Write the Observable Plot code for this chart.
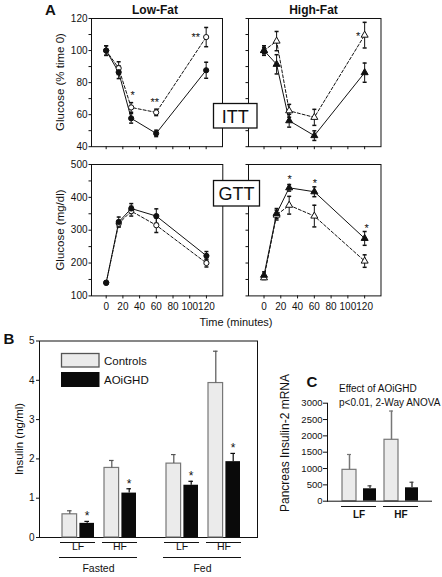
<!DOCTYPE html>
<html><head><meta charset="utf-8">
<script src="https://cdn.jsdelivr.net/npm/d3@7"></script>
<script src="https://cdn.jsdelivr.net/npm/@observablehq/plot@0.6"></script>
<style>
body{margin:0;background:#fff;}
#root{position:relative;width:442px;height:577px;overflow:hidden;background:#fff;font-family:"Liberation Sans",Arial,sans-serif;}
</style></head><body><div id="root"></div>
<script>
// ---------- data ----------
const times = [0, 15, 30, 60, 120];
const xTicks = [0, 20, 40, 60, 80, 100, 120];
const ittTicks = [40, 50, 60, 70, 80, 90, 100, 110, 120];
const ittLabels = [40, 60, 80, 100, 120];
const gttTicks = [100, 150, 200, 250, 300, 350, 400, 450, 500];
const gttLabels = [100, 200, 300, 400, 500];

// ITT Low-Fat (% time 0)
const ittLfCtrl = [100, 89, 64.5, 61.4, 108.4];
const ittLfCtrlSE = [3, 4, 3, 2, 6];
const ittLfAoi = [100, 86.5, 57.7, 48.3, 87.7];
const ittLfAoiSE = [3, 4, 3, 2, 5];
const ittLfCtrlSig = ["", "", "*", "**", "**"];
const ittLfAoiSig = ["", "", "", "", ""];
// ITT High-Fat
const ittHfCtrl = [100, 105.9, 62.4, 58.3, 109.6];
const ittHfCtrlSE = [3, 6, 4, 5, 8];
const ittHfAoi = [100, 91.4, 56.2, 46.9, 86.2];
const ittHfAoiSE = [2, 6, 4, 3, 6];
const ittHfCtrlSig = ["", "", "", "", "*"];
const ittHfAoiSig = ["", "", "", "", ""];
// GTT Low-Fat (mg/dl)
const gttLfCtrl = [140, 320, 358, 315, 200];
const gttLfCtrlSE = [5, 10, 15, 22, 12];
const gttLfAoi = [140, 325, 366, 343, 222];
const gttLfAoiSE = [5, 15, 15, 22, 13];
const gttLfCtrlSig = ["", "", "", "", ""];
const gttLfAoiSig = ["", "", "", "", ""];
// GTT High-Fat
const gttHfCtrl = [155, 346, 376, 343, 206];
const gttHfCtrlSE = [5, 15, 27, 33, 19];
const gttHfAoi = [163, 351, 429, 417, 275];
const gttHfAoiSE = [10, 15, 10, 15, 21];
const gttHfCtrlSig = ["", "", "", "", ""];
const gttHfAoiSig = ["", "", "*", "*", "*"];

// B: insulin (ng/ml)
const bCond = ["Fasted", "Fasted", "Fed", "Fed"];
const bDiet = ["LF", "HF", "LF", "HF"];
const bCtrl = [0.59, 1.77, 1.88, 3.93];
const bCtrlSE = [0.09, 0.19, 0.23, 0.81];
const bAoi = [0.36, 1.13, 1.33, 1.93];
const bAoiSE = [0.05, 0.11, 0.10, 0.21];
const bSig = ["*", "*", "*", "*"];
const bTicks = [0, 1, 2, 3, 4, 5];

// C: pancreas insulin-2 mRNA
const cDiet = ["LF", "HF"];
const cCtrl = [960, 1880];
const cCtrlSE = [470, 880];
const cAoi = [380, 410];
const cAoiSE = [90, 170];
const cTicks = [0, 500, 1000, 1500, 2000, 2500, 3000];

// ---------- helpers ----------
const root = document.getElementById("root");
const FONT = '"Liberation Sans", Arial, Helvetica, sans-serif';
const INK = "#111";
const baseStyle = {fontFamily: FONT, fontSize: "10px", color: INK, background: "transparent", overflow: "visible"};
const plain = d => String(d);
function place(svg, left, top) {
  svg.style.position = "absolute";
  svg.style.left = left + "px";
  svg.style.top = top + "px";
  svg.style.maxWidth = "none";
  root.appendChild(svg);
}
const capSymbol = {draw(ctx) { ctx.moveTo(-2, 0); ctx.lineTo(2, 0); }};

function linePanel(cfg) {
  const mL = 40, mR = 12, mT = 10, mB = 22;
  const W = cfg.x1 - cfg.x0 + mL + mR, H = cfg.y1 - cfg.y0 + mT + mB;
  const mk = (vals, ses, sigs) => times.map((t, i) => ({t, v: vals[i], lo: vals[i] - ses[i], hi: vals[i] + ses[i], sig: sigs[i], i}));
  const ctrl = mk(cfg.ctrl, cfg.ctrlSE, cfg.ctrlSig);
  const aoi = mk(cfg.aoi, cfg.aoiSE, cfg.aoiSig);
  const all = ctrl.concat(aoi);
  const starMarks = [];
  for (const [rows, offs] of [[ctrl, cfg.ctrlStar || []], [aoi, cfg.aoiStar || []]]) {
    rows.forEach(r => {
      if (r.sig) {
        const o = offs[r.i] || [0, -5];
        starMarks.push(Plot.text([r], {x: "t", y: "hi", text: "sig", dx: o[0], dy: o[1], fontSize: 11, fill: INK}));
      }
    });
  }
  const svg = Plot.plot({
    width: W, height: H, marginLeft: mL, marginRight: mR, marginTop: mT, marginBottom: mB,
    style: baseStyle,
    x: {domain: cfg.xDomain},
    y: {domain: cfg.yDomain},
    marks: [
      Plot.frame({stroke: INK}),
      Plot.axisY({ticks: cfg.yTicks, tickSize: 2.5, tickPadding: 1.5, label: null,
        tickFormat: d => (cfg.yLabels && cfg.yLabels.includes(d)) ? String(d) : ""}),
      Plot.axisX({ticks: xTicks, tickSize: 3, tickPadding: 3.5, label: null,
        tickFormat: d => cfg.xLabels ? String(d) : ""}),
      Plot.line(ctrl, {x: "t", y: "v", stroke: INK, strokeWidth: 1, strokeDasharray: "3,2"}),
      Plot.line(aoi, {x: "t", y: "v", stroke: INK, strokeWidth: 1}),
      Plot.ruleX(all, {x: "t", y1: "lo", y2: "hi", stroke: INK, strokeWidth: 1}),
      Plot.dot(all, {x: "t", y: "lo", symbol: capSymbol, stroke: INK, fill: "none"}),
      Plot.dot(all, {x: "t", y: "hi", symbol: capSymbol, stroke: INK, fill: "none"}),
      Plot.dot(ctrl, {x: "t", y: "v", symbol: cfg.symbol, r: 2.6, fill: "white", stroke: INK, strokeWidth: 1}),
      Plot.dot(aoi, {x: "t", y: "v", symbol: cfg.symbol, r: 2.6, fill: INK, stroke: INK, strokeWidth: 1}),
      ...starMarks
    ]
  });
  place(svg, cfg.x0 - mL, cfg.y0 - mT);
}

const lfX = [-17.6, 139.6], hfX = [-18.5, 139.5];
linePanel({x0: 91, x1: 222, y0: 17.8, y1: 146, xDomain: lfX, yDomain: [40, 120], yTicks: ittTicks, yLabels: ittLabels, xLabels: false, symbol: "circle",
  ctrl: ittLfCtrl, ctrlSE: ittLfCtrlSE, aoi: ittLfAoi, aoiSE: ittLfAoiSE, ctrlSig: ittLfCtrlSig, aoiSig: ittLfAoiSig,
  ctrlStar: [null, null, [1.4, -7.1], [-1.5, -6.5], [-10.5, 9.6]]});
linePanel({x0: 248, x1: 380.5, y0: 17.8, y1: 146, xDomain: hfX, yDomain: [40, 120], yTicks: ittTicks, yLabels: null, xLabels: false, symbol: "triangle",
  ctrl: ittHfCtrl, ctrlSE: ittHfCtrlSE, aoi: ittHfAoi, aoiSE: ittHfAoiSE, ctrlSig: ittHfCtrlSig, aoiSig: ittHfAoiSig,
  ctrlStar: [null, null, null, null, [-6.5, 14.4]]});
linePanel({x0: 91, x1: 222.3, y0: 164.3, y1: 295.7, xDomain: lfX, yDomain: [100, 500], yTicks: gttTicks, yLabels: gttLabels, xLabels: true, symbol: "circle",
  ctrl: gttLfCtrl, ctrlSE: gttLfCtrlSE, aoi: gttLfAoi, aoiSE: gttLfAoiSE, ctrlSig: gttLfCtrlSig, aoiSig: gttLfAoiSig});
linePanel({x0: 248, x1: 380.5, y0: 164.3, y1: 295.7, xDomain: hfX, yDomain: [100, 500], yTicks: gttTicks, yLabels: null, xLabels: true, symbol: "triangle",
  ctrl: gttHfCtrl, ctrlSE: gttHfCtrlSE, aoi: gttHfAoi, aoiSE: gttHfAoiSE, ctrlSig: gttHfCtrlSig, aoiSig: gttHfAoiSig,
  aoiStar: [null, null, [0.5, -4.7], [0.5, -3.7], [2, -3.4]]});

// ---------- Panel B ----------
const bData = bCond.map((c, i) => ({cond: c, diet: bDiet[i], ctrl: bCtrl[i], ctrlSE: bCtrlSE[i], aoi: bAoi[i], aoiSE: bAoiSE[i], sig: bSig[i]}));
const condData = Array.from(new Set(bCond)).map(c => ({cond: c}));
const bW = 270, bH = 247, bTop = 330;
place(Plot.plot({
  width: bW, height: bH, marginLeft: 39, marginRight: 13, marginTop: 10.5, marginBottom: 40,
  style: baseStyle,
  y: {domain: [0, 5]},
  marks: [
    Plot.frame({stroke: INK}),
    Plot.axisY({ticks: bTicks, tickSize: 3, tickPadding: 2, label: null, tickFormat: plain})
  ]
}), 0, bTop);
place(Plot.plot({
  width: bW, height: bH, marginLeft: 41, marginRight: 11, marginTop: 10.5, marginBottom: 40,
  style: baseStyle,
  fx: {domain: ["Fasted", "Fed"], paddingInner: 0.25, paddingOuter: 0.173, axis: null},
  x: {domain: ["LF", "HF"], paddingInner: 0.17, paddingOuter: 0, axis: null},
  y: {domain: [0, 5], axis: null},
  marks: [
    Plot.barY(bData, {fx: "cond", x: "diet", y: "ctrl", fill: "#ebebeb", stroke: "#777", strokeWidth: 1.2, insetLeft: 2, insetRight: 18.4}),
    Plot.barY(bData, {fx: "cond", x: "diet", y: "aoi", fill: "#0a0a0a", insetLeft: 19.4, insetRight: 1}),
    Plot.ruleX(bData, {fx: "cond", x: "diet", y1: "ctrl", y2: d => d.ctrl + d.ctrlSE, dx: -8.2, stroke: "#555", strokeWidth: 1.2}),
    Plot.tickY(bData, {fx: "cond", x: "diet", y: d => d.ctrl + d.ctrlSE, insetLeft: 7, insetRight: 23.4, stroke: "#555", strokeWidth: 1.2}),
    Plot.ruleX(bData, {fx: "cond", x: "diet", y1: "aoi", y2: d => d.aoi + d.aoiSE, dx: 9.2, stroke: "#0a0a0a", strokeWidth: 1.2}),
    Plot.tickY(bData, {fx: "cond", x: "diet", y: d => d.aoi + d.aoiSE, insetLeft: 24.4, insetRight: 6, stroke: "#0a0a0a", strokeWidth: 1.2}),
    Plot.text(bData, {fx: "cond", x: "diet", y: d => d.aoi + d.aoiSE, text: "sig", dx: 9.2, dy: -5, fontSize: 12, fill: INK}),
    Plot.tickY(bData, {fx: "cond", x: "diet", y: () => 0, dy: 5, stroke: INK, strokeWidth: 1}),
    Plot.text(bData, {fx: "cond", x: "diet", text: "diet", frameAnchor: "bottom", dy: 12, fontSize: 10.5, fill: INK}),
    Plot.ruleY(condData, {fx: "cond", y: () => 0, dy: 20, stroke: INK, strokeWidth: 1}),
    Plot.text(condData, {fx: "cond", text: "cond", frameAnchor: "bottom", dy: 34, fontSize: 10.5, fill: INK})
  ]
}), 0, bTop);

// ---------- Panel C ----------
const cData = cDiet.map((d, i) => ({diet: d, ctrl: cCtrl[i], ctrlSE: cCtrlSE[i], aoi: cAoi[i], aoiSE: cAoiSE[i]}));
place(Plot.plot({
  width: 172, height: 150, marginLeft: 57, marginRight: 10, marginTop: 12.7, marginBottom: 39.3,
  style: baseStyle,
  x: {domain: cDiet, paddingInner: 0.167, paddingOuter: 0.333, axis: null},
  y: {domain: [0, 3000]},
  marks: [
    Plot.axisY({ticks: cTicks, tickSize: 4, tickPadding: 1, label: null, fontSize: 9.5, tickFormat: plain}),
    Plot.frame({anchor: "left", stroke: INK}),
    Plot.barY(cData, {x: "diet", y: "ctrl", fill: "#ebebeb", stroke: "#777", strokeWidth: 1.2, insetLeft: 1, insetRight: 20}),
    Plot.barY(cData, {x: "diet", y: "aoi", fill: "#0a0a0a", insetLeft: 22, insetRight: 0}),
    Plot.ruleX(cData, {x: "diet", y1: "ctrl", y2: d => d.ctrl + d.ctrlSE, dx: -9.5, stroke: "#777", strokeWidth: 1.5}),
    Plot.tickY(cData, {x: "diet", y: d => d.ctrl + d.ctrlSE, insetLeft: 6, insetRight: 25, stroke: "#777", strokeWidth: 1.2}),
    Plot.ruleX(cData, {x: "diet", y1: "aoi", y2: d => d.aoi + d.aoiSE, dx: 11, stroke: "#444", strokeWidth: 1.5}),
    Plot.tickY(cData, {x: "diet", y: d => d.aoi + d.aoiSE, insetLeft: 26.5, insetRight: 4.5, stroke: "#444", strokeWidth: 1.2}),
    Plot.ruleY([0], {stroke: INK}),
    Plot.tickY(cData, {x: "diet", y: () => 0, dy: 5.3, stroke: INK}),
    Plot.text(cData, {x: "diet", text: "diet", frameAnchor: "bottom", dy: 16.5, fontSize: 10, fontWeight: "bold", fill: INK})
  ]
}), 270, 390);

// ---------- annotation overlay ----------
const ov = document.createElementNS("http://www.w3.org/2000/svg", "svg");
ov.setAttribute("width", 442); ov.setAttribute("height", 577);
ov.style.position = "absolute"; ov.style.left = "0px"; ov.style.top = "0px";
ov.setAttribute("font-family", FONT);
ov.innerHTML = `
<g fill="#111">
<text x="50.5" y="15" font-size="15" font-weight="bold" text-anchor="middle">A</text>
<text x="155" y="14" font-size="12" font-weight="bold" text-anchor="middle">Low-Fat</text>
<text x="313.5" y="14" font-size="12" font-weight="bold" text-anchor="middle">High-Fat</text>
<text transform="translate(64,82) rotate(-90)" font-size="11.5" text-anchor="middle">Glucose (% time 0)</text>
<text transform="translate(64,230) rotate(-90)" font-size="11.5" text-anchor="middle">Glucose (mg/dl)</text>
<text x="236" y="326" font-size="11" text-anchor="middle">Time (minutes)</text>
<rect x="213.5" y="103.5" width="43.5" height="24.5" fill="#fff" stroke="#111" stroke-width="1.3"/>
<text x="235.3" y="122.5" font-size="18" text-anchor="middle">ITT</text>
<rect x="213.5" y="180.5" width="46" height="25.5" fill="#fff" stroke="#111" stroke-width="1.3"/>
<text x="236.5" y="199.8" font-size="18" text-anchor="middle">GTT</text>
<text x="9" y="343.5" font-size="15" font-weight="bold" text-anchor="middle">B</text>
<rect x="61.5" y="353.5" width="37.5" height="13.5" fill="#ebebeb" stroke="#555" stroke-width="1.3"/>
<text x="104" y="364.5" font-size="11.5">Controls</text>
<rect x="61.5" y="372.5" width="37.5" height="14" fill="#0a0a0a" stroke="#0a0a0a" stroke-width="1"/>
<text x="104" y="384" font-size="11.5">AOiGHD</text>
<text transform="translate(22.5,439) rotate(-90)" font-size="11.5" text-anchor="middle">Insulin (ng/ml)</text>
<text x="312" y="387" font-size="15" font-weight="bold" text-anchor="middle">C</text>
<text x="339" y="392" font-size="10">Effect of AOiGHD</text>
<text x="339" y="405.5" font-size="10">p&lt;0.01, 2-Way ANOVA</text>
<text transform="translate(289,443) rotate(-90)" font-size="12" text-anchor="middle">Pancreas Insulin-2 mRNA</text>
</g>`;
root.appendChild(ov);
</script></body></html>
